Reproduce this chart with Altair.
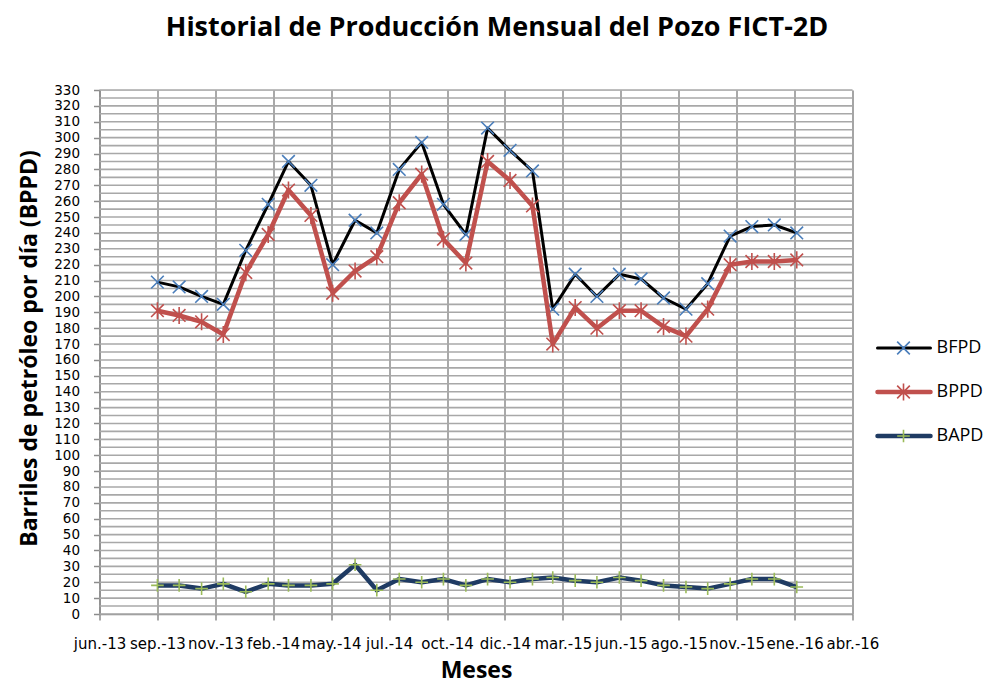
import altair as alt
import pandas as pd

# ---- data ----
meses = ["2013-09-01", "2013-10-01", "2013-11-01", "2013-12-01", "2014-01-01", "2014-02-01",
         "2014-03-01", "2014-04-01", "2014-05-01", "2014-06-01", "2014-07-01", "2014-08-01",
         "2014-09-01", "2014-10-01", "2014-11-01", "2014-12-01", "2015-01-01", "2015-02-01",
         "2015-03-01", "2015-04-01", "2015-05-01", "2015-06-01", "2015-07-01", "2015-08-01",
         "2015-09-01", "2015-10-01", "2015-11-01", "2015-12-01", "2016-01-01", "2016-02-01"]
bfpd = [209, 206, 200, 195, 229, 258, 285, 270, 220, 248, 240, 280, 297, 258, 239,
        306, 292, 279, 192, 214, 200, 214, 211, 199, 192, 208, 238, 244, 245, 240]
bppd = [191, 188, 184, 176, 215, 239, 267, 251, 202, 216, 225, 259, 277, 236, 221,
        285, 273, 257, 170, 193, 180, 191, 191, 181, 175, 192, 220, 222, 222, 223]
bapd = [18, 18, 16, 19, 14, 19, 18, 18, 19, 31, 15, 22, 20, 22, 18,
        22, 20, 22, 23, 21, 20, 23, 21, 18, 17, 16, 19, 22, 22, 17]

tick_dates = ["2013-06-13", "2013-09-01", "2013-11-20", "2014-02-08", "2014-04-29", "2014-07-18",
              "2014-10-06", "2014-12-25", "2015-03-15", "2015-06-03", "2015-08-22", "2015-11-10",
              "2016-01-29", "2016-04-18"]
tick_labels = ["jun.-13", "sep.-13", "nov.-13", "feb.-14", "may.-14", "jul.-14", "oct.-14",
               "dic.-14", "mar.-15", "jun.-15", "ago.-15", "nov.-15", "ene.-16", "abr.-16"]
y_ticks = list(range(0, 331, 10))
y_grid = list(range(0, 331, 5))

series = ["BFPD", "BPPD", "BAPD"]
line_colors = ["#000000", "#C0504D", "#1F3B63"]
marker_colors = ["#4A7EBB", "#C0504D", "#9BBB59"]
line_widths = [3, 4.5, 4.5]
shapes = ["M-1,-1L1,1M-1,1L1,-1",
          "M-1,-1L1,1M-1,1L1,-1M0,-1.35L0,1.35",
          "M-1,0L1,0M0,-1L0,1"]

# ---- tables ----
def to_ms(s):
    return [int(v) // 10**6 for v in pd.to_datetime(s).astype("int64")]

df = pd.DataFrame({"fecha": to_ms(meses), "BFPD": bfpd, "BPPD": bppd, "BAPD": bapd})
tick_ms = to_ms(tick_dates)
label_expr = ("[" + ",".join("'%s'" % l for l in tick_labels) + "][indexof(["
              + ",".join(str(t) for t in tick_ms) + "], time(datum.value))]")

FONT = "Open Sans"
TICK_FONT = "DejaVu Sans"
W, H = 753, 524

x_axis = alt.Axis(values=tick_ms, labelExpr=label_expr, title="Meses",
                  grid=True, gridColor="#8c8c8c", gridWidth=1.5,
                  domainColor="#8c8c8c", domainWidth=1.5,
                  tickColor="#8c8c8c", tickWidth=1.5, tickSize=6,
                  labelFont=TICK_FONT, labelFontSize=15, labelColor="#000000",
                  labelPadding=16, labelOverlap=False, labelFlush=False,
                  labelBound=False, labelBaseline="top", labelAlign="center",
                  titleFont=FONT, titleFontSize=23, titleFontWeight="bold",
                  titleColor="#000000", titleBaseline="alphabetic",
                  titleX=W / 2, titleY=63)
x_enc = alt.X("fecha:T",
              scale=alt.Scale(type="utc", domain=[tick_ms[0], tick_ms[-1]]),
              axis=x_axis)

y_scale = alt.Scale(domain=[0, 330], nice=False)
y_axis = alt.Axis(values=y_ticks, title="Barriles de petróleo por día (BPPD)",
                  grid=False, domainColor="#8c8c8c", domainWidth=1.5,
                  tickColor="#8c8c8c", tickWidth=1.5, tickSize=6,
                  labelFont=TICK_FONT, labelFontSize=13.5, labelColor="#000000",
                  labelPadding=14, labelOverlap=False, labelFlush=False,
                  titleFont=FONT, titleFontSize=23, titleFontWeight="bold",
                  titleColor="#000000", titleBaseline="alphabetic",
                  titleX=-63, titleY=H / 2 - 4)

grid = alt.Chart(pd.DataFrame({"g": y_grid})).mark_rule(
    color="#a8a8a8", strokeWidth=1.6).encode(
    y=alt.Y("g:Q", scale=y_scale, axis=y_axis))

layers = [grid]
base = alt.Chart(df)
for s, lc, mc, lw, sh in zip(series, line_colors, marker_colors, line_widths, shapes):
    layers.append(base.mark_line(color=lc, strokeWidth=lw, strokeJoin="round").encode(
        x=x_enc, y=alt.Y(f"{s}:Q", scale=y_scale, axis=y_axis)))
    layers.append(base.mark_point(shape=sh, size=160, color=mc, filled=False,
                                  strokeWidth=1.6, opacity=1).encode(
        x=x_enc, y=alt.Y(f"{s}:Q", scale=y_scale, axis=y_axis)))

# ---- legend (drawn at the right of the plot) ----
leg_y = [258, 302, 346]
for s, lc, mc, lw, sh, yy in zip(series, line_colors, marker_colors, line_widths, shapes, leg_y):
    ld = alt.Data(values=[{"serie": s}])
    layers.append(alt.Chart(ld).mark_rule(color=lc, strokeWidth=lw, strokeCap="round").encode(
        x=alt.value(778), x2=alt.value(831), y=alt.value(yy)))
    layers.append(alt.Chart(ld).mark_point(shape=sh, size=160, color=mc, filled=False,
                                           strokeWidth=1.6, opacity=1).encode(
        x=alt.value(804), y=alt.value(yy)))
    layers.append(alt.Chart(ld).mark_text(align="left", baseline="middle", font=FONT,
                                          fontSize=18, color="#000000").encode(
        x=alt.value(837), y=alt.value(yy), text="serie:N"))

chart = alt.layer(*layers).properties(
    width=W, height=H,
    title=alt.TitleParams("Historial de Producción Mensual del Pozo FICT-2D",
                          font=FONT, fontSize=27, fontWeight="bold", color="#000000",
                          anchor="middle", dx=21, offset=41),
    padding={"left": 91.5, "top": 82, "right": 131, "bottom": 70},
    autosize=alt.AutoSizeParams(type="none"),
).configure_view(stroke=None).configure(background="white")

chart.save("out.html", embed_options={"renderer": "svg", "actions": False})
